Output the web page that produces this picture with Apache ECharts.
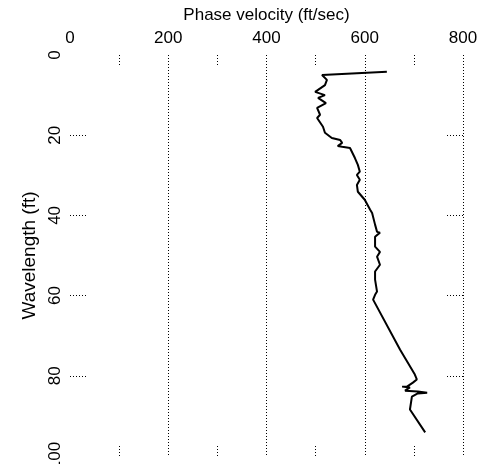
<!DOCTYPE html>
<html lang="en">
  <head>
    <meta charset="UTF-8" />
    <title>Phase velocity vs wavelength</title>
    <script src="https://cdn.jsdelivr.net/npm/echarts@6.0.0/dist/echarts.min.js"></script>
  </head>
  <body style="margin: 0; background: #fff">
    <div id="main" style="width: 482px; height: 464px"></div>

    <script>
      // 曲线数据: 波长(ft) 与 相速度(ft/sec)
      var wavelength = [
        4.2, 5.0, 6.2, 7.5, 9.2, 10.0, 10.7, 12.0, 13.2, 14.9, 15.7, 17.9, 19.4,
        20.7, 21.2, 21.9, 22.7, 22.9, 23.2, 25.7, 27.4, 29.1, 29.9, 31.1, 32.4,
        34.1, 36.1, 38.6, 39.4, 42.3, 44.1, 44.3, 45.3, 47.8, 48.1, 49.1, 50.3,
        52.3, 54.0, 56.0, 59.0, 59.8, 61.0, 73.5, 79.7, 80.9, 81.7, 82.7, 82.7,
        82.9, 83.7, 83.9, 84.2, 84.4, 85.2, 88.4, 94.1
      ]
      var velocity = [
        645, 513, 523, 519, 499, 519, 505, 521, 503, 509, 503, 515, 519,
        533, 550, 554, 545, 554, 570, 580, 586, 590, 584, 590, 584,
        586, 600, 611, 615, 621, 625, 631, 621, 621, 617, 631, 625,
        631, 621, 621, 625, 621, 617, 672, 702, 706, 698, 686, 676,
        692, 682, 708, 727, 708, 696, 692, 723
      ]
      var xMinorTicks = [100, 300, 500, 700]
      var yTicks = [20, 40, 60, 80]

      var points = velocity.map(function (v, i) {
        return [v, wavelength[i]]
      })

      var font = "'Liberation Sans', Arial, sans-serif"
      var dotted = { color: "#000", type: [1, 2], width: 1 }

      // 只画刻度的辅助坐标轴
      function tickAxis(pos, step, values, len) {
        return {
          type: "value",
          position: pos,
          inverse: pos === "left" || pos === "right",
          min: 0,
          max: pos === "top" || pos === "bottom" ? 800 : 100,
          interval: step,
          axisLine: { show: false, onZero: false },
          axisLabel: { show: false },
          axisTick: {
            show: true,
            inside: true,
            length: len,
            customValues: values,
            lineStyle: dotted
          },
          splitLine: { show: false }
        }
      }

      var mCharts = echarts.init(document.getElementById("main"))
      var option = {
        animation: false,
        backgroundColor: "#fff",
        grid: { left: 70, right: 19, top: 55, bottom: 8, outerBoundsMode: "none" },
        xAxis: [
          {
            type: "value",
            position: "top",
            min: 0,
            max: 800,
            interval: 200,
            name: "Phase velocity (ft/sec)",
            nameLocation: "middle",
            nameGap: 31,
            nameTextStyle: { color: "#000", fontSize: 17, fontFamily: font },
            axisLine: { show: false, onZero: false },
            axisTick: { show: false },
            axisLabel: { color: "#000", fontSize: 17, fontFamily: font, margin: 8 },
            splitLine: { show: true, showMinLine: false, lineStyle: dotted }
          },
          tickAxis("top", 100, xMinorTicks, 12),
          tickAxis("bottom", 100, xMinorTicks, 12)
        ],
        yAxis: [
          {
            type: "value",
            inverse: true,
            min: 0,
            max: 100,
            interval: 20,
            name: "Wavelength (ft)",
            nameLocation: "middle",
            nameGap: 26,
            nameTextStyle: { color: "#000", fontSize: 19, fontFamily: font },
            axisLine: { show: false, onZero: false },
            axisTick: {
              show: true,
              inside: true,
              length: 16,
              customValues: yTicks,
              lineStyle: dotted
            },
            axisLabel: {
              color: "#000",
              fontSize: 17,
              fontFamily: font,
              rotate: 90,
              margin: 6
            },
            splitLine: { show: false }
          },
          tickAxis("right", 20, yTicks, 16)
        ],
        series: [
          {
            type: "line",
            data: points,
            xAxisIndex: 0,
            yAxisIndex: 0,
            showSymbol: false,
            lineStyle: { color: "#000", width: 2 }
          }
        ]
      }
      mCharts.setOption(option)
    </script>
  </body>
</html>
